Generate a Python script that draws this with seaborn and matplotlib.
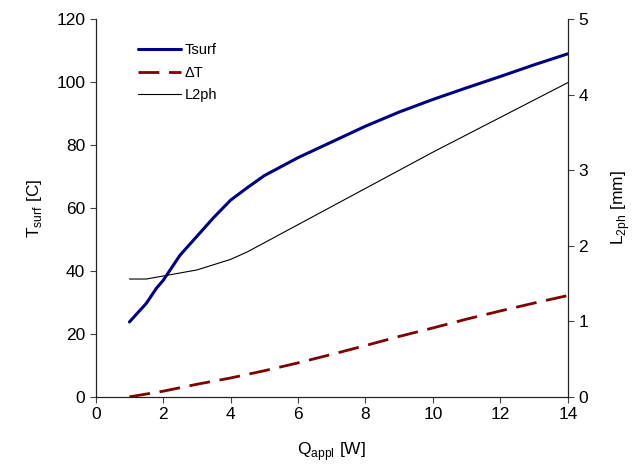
import numpy as np
import pandas as pd
import seaborn as sns
import matplotlib.pyplot as plt

# datos
q_tsurf = [1.0, 1.5, 1.8, 2.0, 2.5, 3.0, 3.5, 4.0, 4.5, 5.0, 6.0, 7.0, 8.0, 9.0, 10.0, 11.0, 12.0, 13.0, 14.0]
tsurf = [23.8, 29.7, 34.5, 37.0, 45.0, 51.0, 57.0, 62.5, 66.5, 70.3, 76.0, 81.0, 86.0, 90.5, 94.5, 98.2, 101.8, 105.5, 109.0]

q_dt = [1.0, 2.0, 3.0, 4.0, 5.0, 6.0, 7.0, 8.0, 9.0, 10.0, 11.0, 12.0, 13.0, 14.0]
dt = [0.0, 1.8, 4.0, 6.0, 8.3, 10.8, 13.5, 16.3, 19.2, 21.9, 24.7, 27.3, 29.8, 32.2]

q_l2ph = [1.0, 1.5, 2.0, 3.0, 4.0, 4.5, 5.0, 6.0, 8.0, 10.0, 12.0, 14.0]
l2ph = [1.56, 1.56, 1.60, 1.68, 1.82, 1.92, 2.04, 2.28, 2.76, 3.24, 3.70, 4.16]

sns.set_style("ticks")
plt.rcParams['font.family'] = ['Liberation Sans', 'DejaVu Sans']
plt.rcParams['xtick.labelsize'] = 12.5
plt.rcParams['ytick.labelsize'] = 12.5
plt.rcParams['text.color'] = 'black'
plt.rcParams['axes.labelcolor'] = 'black'
plt.rcParams['xtick.labelcolor'] = 'black'
plt.rcParams['ytick.labelcolor'] = 'black'

fig = plt.figure(figsize=(6.38, 4.68), dpi=100)
ax = fig.add_axes([0.150, 0.152, 0.740, 0.807])
ax2 = ax.twinx()

sns.lineplot(x=q_tsurf, y=tsurf, ax=ax, color='#000080', linewidth=2.2, label='Tsurf', legend=False)
sns.lineplot(x=q_dt, y=dt, ax=ax, color='#800000', linewidth=2.0, label='ΔT', legend=False)
ax.lines[-1].set_dashes([7.5, 3.5])
sns.lineplot(x=q_l2ph, y=l2ph, ax=ax2, color='black', linewidth=0.8, label='L2ph', legend=False)

ax.set_xlim(0, 14)
ax.set_ylim(0, 120)
ax2.set_ylim(0, 5)
ax.set_xticks(np.arange(0, 15, 2))
ax.set_yticks(np.arange(0, 121, 20))
ax2.set_yticks(np.arange(0, 6, 1))

ax.set_xlabel('Q$_{\\mathregular{appl}}$ [W]', fontsize=12.5, labelpad=13)
ax.set_ylabel('T$_{\\mathregular{surf}}$ [C]', fontsize=12.5, labelpad=9)
ax2.set_ylabel('L$_{\\mathregular{2ph}}$ [mm]', fontsize=12.5, labelpad=15)

for a in (ax, ax2):
    a.spines['top'].set_visible(False)
    for s in ('left', 'right', 'bottom'):
        a.spines[s].set_color('#222222')
    a.tick_params(direction='out', length=4, width=0.8, colors='#444444', labelcolor='black')

h1, l1 = ax.get_legend_handles_labels()
h2, l2 = ax2.get_legend_handles_labels()
ax.legend(h1 + h2, l1 + l2, loc='upper left', bbox_to_anchor=(0.061, 0.972),
          frameon=False, fontsize=10.5, handlelength=3.0, handletextpad=0.2, labelspacing=0.6)

fig.savefig('out.png', dpi=100)
